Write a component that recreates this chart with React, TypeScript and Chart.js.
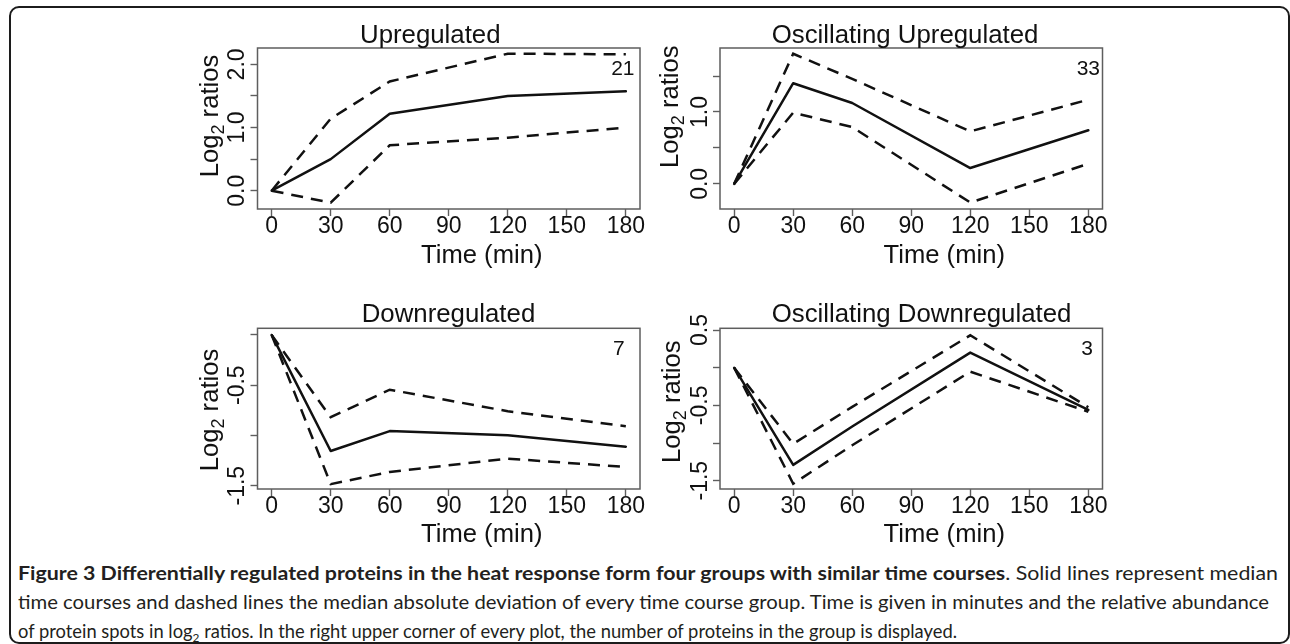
import React, { useEffect, useLayoutEffect, useRef } from 'react';
import { Chart, registerables } from 'chart.js';

Chart.register(...registerables);

// ---------- data ----------
const times = [0, 30, 60, 120, 180];
const xTicks = [0, 30, 60, 90, 120, 150, 180];
const xRange = [-7.2, 187.2];

// Upregulated
const upMedian = [0, 0.5, 1.22, 1.5, 1.575];
const upUpper = [0, 1.14, 1.73, 2.17, 2.16];
const upLower = [0, -0.19, 0.72, 0.84, 1.0];
const upYTicks = [0, 0.5, 1, 1.5, 2];
const upYLabels = [0, 1, 2];
const upYRange = [-0.29, 2.26];
const upCount = '21';

// Oscillating Upregulated
const oscUpMedian = [0, 1.4, 1.125, 0.22, 0.745];
const oscUpUpper = [0, 1.81, 1.46, 0.73, 1.17];
const oscUpLower = [0, 0.99, 0.79, -0.26, 0.28];
const oscUpYTicks = [0, 0.5, 1, 1.5];
const oscUpYLabels = [0, 1];
const oscUpYRange = [-0.35, 1.89];
const oscUpCount = '33';

// Downregulated
const downMedian = [0, -1.155, -0.957, -0.997, -1.112];
const downUpper = [0, -0.819, -0.545, -0.759, -0.908];
const downLower = [0, -1.485, -1.363, -1.231, -1.314];
const downYTicks = [-1.5, -1, -0.5, 0];
const downYLabels = [-1.5, -0.5];
const downYRange = [-1.533, 0.066];
const downCount = '7';

// Oscillating Downregulated
const oscDownMedian = [0, -1.29, -0.78, 0.2, -0.56];
const oscDownUpper = [0, -1.01, -0.52, 0.43, -0.525];
const oscDownLower = [0, -1.54, -1.03, -0.053, -0.584];
const oscDownYTicks = [-1.5, -1, -0.5, 0, 0.5];
const oscDownYLabels = [-1.5, -0.5, 0.5];
const oscDownYRange = [-1.61, 0.523];
const oscDownCount = '3';

const titles = ['Upregulated', 'Oscillating Upregulated', 'Downregulated', 'Oscillating Downregulated'];
const yAxisTitle = ['Log', '2', ' ratios'];
const xAxisTitle = 'Time (min)';

// ---------- layout / style ----------
const FONT = '"Liberation Sans", Arial, Helvetica, sans-serif';
const INK = '#111111';
const FRAME = '#5e5e5e';
const Y_AXIS_W = 30;
const X_AXIS_H = 40;
const TICK_FONT = 23;

type Layout = {
  box: { left: number; top: number; width: number; height: number };
  area: { left: number; top: number; right: number; bottom: number };
  titleX: number; titleY: number;
  countX: number; countY: number;
  ylabX: number; ylabY: number;
  xtitleDy: number;
};

const layouts: Layout[] = [
  { box: { left: 185, top: 10, width: 465, height: 275 }, area: { left: 72.5, top: 38, right: 455, bottom: 199 },
    titleX: 175, titleY: 32.5, countX: 449.5, countY: 65, ylabX: 32.7, ylabY: 106, xtitleDy: 54 },
  { box: { left: 650, top: 10, width: 470, height: 275 }, area: { left: 70, top: 38, right: 452.5, bottom: 199 },
    titleX: 121.7, titleY: 32.7, countX: 450, countY: 65, ylabX: 28.3, ylabY: 96.7, xtitleDy: 54 },
  { box: { left: 185, top: 285, width: 465, height: 272 }, area: { left: 72.5, top: 43.3, right: 455, bottom: 204 },
    titleX: 176.7, titleY: 37.3, countX: 439.8, countY: 70, ylabX: 33.3, ylabY: 125, xtitleDy: 52.7 },
  { box: { left: 650, top: 285, width: 470, height: 272 }, area: { left: 70, top: 43.3, right: 452.5, bottom: 204 },
    titleX: 121.7, titleY: 37.3, countX: 443, countY: 69.5, ylabX: 30, ylabY: 116.7, xtitleDy: 52.7 },
];

type PanelData = {
  title: string; count: string;
  median: number[]; upper: number[]; lower: number[];
  yTicks: number[]; yLabels: number[]; yRange: number[];
};

const panelData: PanelData[] = [
  { title: titles[0], count: upCount, median: upMedian, upper: upUpper, lower: upLower, yTicks: upYTicks, yLabels: upYLabels, yRange: upYRange },
  { title: titles[1], count: oscUpCount, median: oscUpMedian, upper: oscUpUpper, lower: oscUpLower, yTicks: oscUpYTicks, yLabels: oscUpYLabels, yRange: oscUpYRange },
  { title: titles[2], count: downCount, median: downMedian, upper: downUpper, lower: downLower, yTicks: downYTicks, yLabels: downYLabels, yRange: downYRange },
  { title: titles[3], count: oscDownCount, median: oscDownMedian, upper: oscDownUpper, lower: oscDownLower, yTicks: oscDownYTicks, yLabels: oscDownYLabels, yRange: oscDownYRange },
];

const toPoints = (vals: number[]) => times.map((t, i) => ({ x: t, y: vals[i] }));

function Panel({ d, l }: { d: PanelData; l: Layout }) {
  const ref = useRef<HTMLCanvasElement>(null);
  useEffect(() => {
    const decor = {
      id: 'decor',
      afterDraw(chart: any) {
        const { ctx, chartArea: ca, scales } = chart;
        ctx.save();
        // frame
        ctx.strokeStyle = FRAME;
        ctx.lineWidth = 1.5;
        ctx.strokeRect(ca.left, ca.top, ca.right - ca.left, ca.bottom - ca.top);
        ctx.fillStyle = INK;
        // y tick labels (rotated, R style)
        ctx.font = `${TICK_FONT}px ${FONT}`;
        ctx.textAlign = 'center';
        ctx.textBaseline = 'alphabetic';
        for (const v of d.yLabels) {
          const y = scales.y.getPixelForValue(v);
          ctx.save();
          ctx.translate(ca.left - 13.5, y);
          ctx.rotate(-Math.PI / 2);
          ctx.fillText(v.toFixed(1), 0, 0);
          ctx.restore();
        }
        // panel title
        ctx.font = `25.8px ${FONT}`;
        ctx.textAlign = 'left';
        ctx.fillText(d.title, l.titleX, l.titleY);
        // count
        ctx.font = `21px ${FONT}`;
        ctx.textAlign = 'right';
        ctx.fillText(d.count, l.countX, l.countY);
        // x title
        ctx.font = `25.6px ${FONT}`;
        ctx.textAlign = 'center';
        ctx.fillText(xAxisTitle, (ca.left + ca.right) / 2 + 33, ca.bottom + l.xtitleDy);
        // y title with subscript
        ctx.save();
        ctx.translate(l.ylabX, l.ylabY);
        ctx.rotate(-Math.PI / 2);
        const big = `25.6px ${FONT}`;
        const small = `18px ${FONT}`;
        ctx.font = big;
        const w1 = ctx.measureText(yAxisTitle[0]).width;
        const w3 = ctx.measureText(yAxisTitle[2]).width;
        ctx.font = small;
        const w2 = ctx.measureText(yAxisTitle[1]).width;
        let x = -(w1 + w2 + w3) / 2;
        ctx.textAlign = 'left';
        ctx.font = big;
        ctx.fillText(yAxisTitle[0], x, 0);
        x += w1;
        ctx.font = small;
        ctx.fillText(yAxisTitle[1], x, 6);
        x += w2;
        ctx.font = big;
        ctx.fillText(yAxisTitle[2], x, 0);
        ctx.restore();
        ctx.restore();
      },
    };

    const lineStyle = { borderColor: INK, borderWidth: 2.5, pointRadius: 0, tension: 0, fill: false };
    const gridOpts = {
      display: true, drawOnChartArea: false, drawTicks: true, tickLength: 7,
      tickColor: FRAME, tickWidth: 1.4, color: FRAME,
    };
    const chart = new Chart(ref.current as HTMLCanvasElement, {
      type: 'line',
      data: {
        datasets: [
          { ...lineStyle, data: toPoints(d.upper), borderDash: [12, 8] },
          { ...lineStyle, data: toPoints(d.median), borderCapStyle: 'round', borderJoinStyle: 'round' },
          { ...lineStyle, data: toPoints(d.lower), borderDash: [12, 8] },
        ],
      } as any,
      options: {
        responsive: false,
        animation: false,
        devicePixelRatio: 1,
        layout: {
          padding: {
            left: l.area.left - Y_AXIS_W,
            top: l.area.top,
            right: l.box.width - l.area.right,
            bottom: l.box.height - l.area.bottom - X_AXIS_H,
          },
        },
        plugins: { legend: { display: false }, tooltip: { enabled: false }, title: { display: false } },
        scales: {
          x: {
            type: 'linear',
            min: xRange[0],
            max: xRange[1],
            afterBuildTicks: (s: any) => { s.ticks = xTicks.map((v) => ({ value: v })); },
            afterFit: (s: any) => { s.height = X_AXIS_H; },
            ticks: {
              autoSkip: false, maxRotation: 0, minRotation: 0, padding: -3,
              color: INK, font: { size: TICK_FONT, family: FONT },
              callback: (v: any) => String(v),
            },
            grid: gridOpts,
            border: { display: false },
          },
          y: {
            type: 'linear',
            min: d.yRange[0],
            max: d.yRange[1],
            afterBuildTicks: (s: any) => { s.ticks = d.yTicks.map((v) => ({ value: v })); },
            afterFit: (s: any) => { s.width = Y_AXIS_W; },
            ticks: { display: false },
            grid: gridOpts,
            border: { display: false },
          },
        },
      } as any,
      plugins: [decor],
    });
    return () => chart.destroy();
  }, []);
  return (
    <canvas
      ref={ref}
      width={l.box.width}
      height={l.box.height}
      style={{ position: 'absolute', left: l.box.left, top: l.box.top, width: l.box.width, height: l.box.height, display: 'block' }}
    />
  );
}

// caption line widths (px) as they appear in the figure
const captionTargets = [1260, 1251, 939];

export default function App() {
  const lineRefs = [useRef<HTMLDivElement>(null), useRef<HTMLDivElement>(null), useRef<HTMLDivElement>(null)];
  useLayoutEffect(() => {
    lineRefs.forEach((r, i) => {
      const el = r.current;
      if (!el) return;
      el.style.transform = 'none';
      const w = el.getBoundingClientRect().width;
      if (w > 0) el.style.transform = `scaleX(${captionTargets[i] / w})`;
    });
  }, []);
  const lineStyle: React.CSSProperties = { width: 'max-content', whiteSpace: 'nowrap', transformOrigin: 'left center' };
  return (
    <div style={{ position: 'fixed', left: 0, top: 0, width: 1290, height: 644, overflow: 'hidden', background: '#fff' }}>
      <div style={{ position: 'absolute', left: 9, top: 6, width: 1281, height: 638, boxSizing: 'border-box', border: '2px solid #1c1c1c', borderRadius: 10 }} />
      {panelData.map((d, i) => <Panel key={i} d={d} l={layouts[i]} />)}
      <div style={{ position: 'absolute', left: 18, top: 559, fontFamily: 'Lato, "Open Sans", sans-serif', fontSize: 18.5, lineHeight: '29px', color: '#231f20' }}>
        <div ref={lineRefs[0]} style={lineStyle}>
          <b>Figure 3 Differentially regulated proteins in the heat response form four groups with similar time courses</b>. Solid lines represent median
        </div>
        <div ref={lineRefs[1]} style={lineStyle}>
          time courses and dashed lines the median absolute deviation of every time course group. Time is given in minutes and the relative abundance
        </div>
        <div ref={lineRefs[2]} style={lineStyle}>
          of protein spots in log<sub style={{ fontSize: 12, verticalAlign: -4, lineHeight: 0 }}>2</sub> ratios. In the right upper corner of every plot, the number of proteins in the group is displayed.
        </div>
      </div>
    </div>
  );
}
